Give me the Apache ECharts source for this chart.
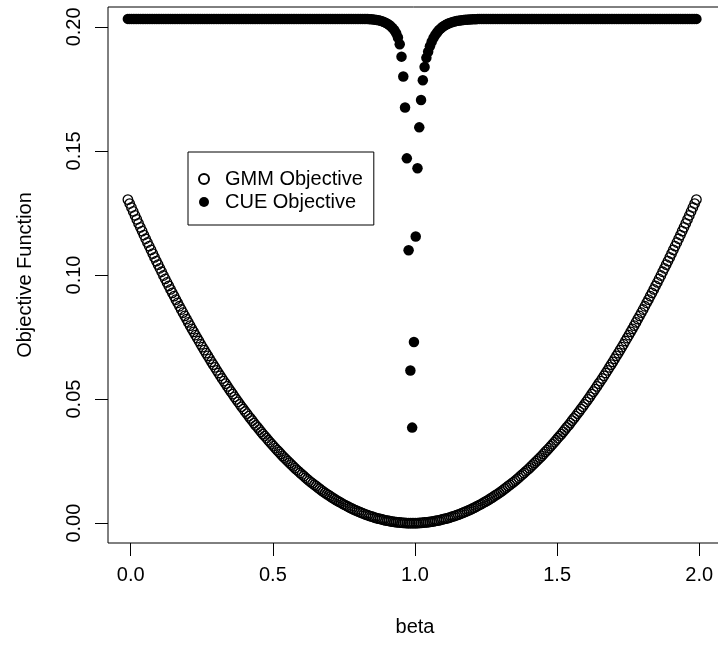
<!DOCTYPE html>
<html>
<head>
<meta charset="utf-8">
<script src="https://cdn.jsdelivr.net/npm/echarts@6/dist/echarts.min.js"></script>
<style>
html, body {margin: 0; padding: 0; background: #fff;}
#chartContainer {width: 718px; height: 649px;}
</style>
</head>
<body>
<div id="chartContainer"></div>
<script>
// beta grid (x values of both series)
var betaGrid = [
    -0.01, -0.00375, 0.0025, 0.00875, 0.015, 0.02125, 0.0275, 0.03375,
    0.04, 0.04625, 0.0525, 0.05875, 0.065, 0.07125, 0.0775, 0.08375,
    0.09, 0.09625, 0.1025, 0.10875, 0.115, 0.12125, 0.1275, 0.13375,
    0.14, 0.14625, 0.1525, 0.15875, 0.165, 0.17125, 0.1775, 0.18375,
    0.19, 0.19625, 0.2025, 0.20875, 0.215, 0.22125, 0.2275, 0.23375,
    0.24, 0.24625, 0.2525, 0.25875, 0.265, 0.27125, 0.2775, 0.28375,
    0.29, 0.29625, 0.3025, 0.30875, 0.315, 0.32125, 0.3275, 0.33375,
    0.34, 0.34625, 0.3525, 0.35875, 0.365, 0.37125, 0.3775, 0.38375,
    0.39, 0.39625, 0.4025, 0.40875, 0.415, 0.42125, 0.4275, 0.43375,
    0.44, 0.44625, 0.4525, 0.45875, 0.465, 0.47125, 0.4775, 0.48375,
    0.49, 0.49625, 0.5025, 0.50875, 0.515, 0.52125, 0.5275, 0.53375,
    0.54, 0.54625, 0.5525, 0.55875, 0.565, 0.57125, 0.5775, 0.58375,
    0.59, 0.59625, 0.6025, 0.60875, 0.615, 0.62125, 0.6275, 0.63375,
    0.64, 0.64625, 0.6525, 0.65875, 0.665, 0.67125, 0.6775, 0.68375,
    0.69, 0.69625, 0.7025, 0.70875, 0.715, 0.72125, 0.7275, 0.73375,
    0.74, 0.74625, 0.7525, 0.75875, 0.765, 0.77125, 0.7775, 0.78375,
    0.79, 0.79625, 0.8025, 0.80875, 0.815, 0.82125, 0.8275, 0.83375,
    0.84, 0.84625, 0.8525, 0.85875, 0.865, 0.87125, 0.8775, 0.88375,
    0.89, 0.89625, 0.9025, 0.90875, 0.915, 0.92125, 0.9275, 0.93375,
    0.94, 0.94625, 0.9525, 0.95875, 0.965, 0.97125, 0.9775, 0.98375,
    0.99, 0.99625, 1.0025, 1.00875, 1.015, 1.02125, 1.0275, 1.03375,
    1.04, 1.04625, 1.0525, 1.05875, 1.065, 1.07125, 1.0775, 1.08375,
    1.09, 1.09625, 1.1025, 1.10875, 1.115, 1.12125, 1.1275, 1.13375,
    1.14, 1.14625, 1.1525, 1.15875, 1.165, 1.17125, 1.1775, 1.18375,
    1.19, 1.19625, 1.2025, 1.20875, 1.215, 1.22125, 1.2275, 1.23375,
    1.24, 1.24625, 1.2525, 1.25875, 1.265, 1.27125, 1.2775, 1.28375,
    1.29, 1.29625, 1.3025, 1.30875, 1.315, 1.32125, 1.3275, 1.33375,
    1.34, 1.34625, 1.3525, 1.35875, 1.365, 1.37125, 1.3775, 1.38375,
    1.39, 1.39625, 1.4025, 1.40875, 1.415, 1.42125, 1.4275, 1.43375,
    1.44, 1.44625, 1.4525, 1.45875, 1.465, 1.47125, 1.4775, 1.48375,
    1.49, 1.49625, 1.5025, 1.50875, 1.515, 1.52125, 1.5275, 1.53375,
    1.54, 1.54625, 1.5525, 1.55875, 1.565, 1.57125, 1.5775, 1.58375,
    1.59, 1.59625, 1.6025, 1.60875, 1.615, 1.62125, 1.6275, 1.63375,
    1.64, 1.64625, 1.6525, 1.65875, 1.665, 1.67125, 1.6775, 1.68375,
    1.69, 1.69625, 1.7025, 1.70875, 1.715, 1.72125, 1.7275, 1.73375,
    1.74, 1.74625, 1.7525, 1.75875, 1.765, 1.77125, 1.7775, 1.78375,
    1.79, 1.79625, 1.8025, 1.80875, 1.815, 1.82125, 1.8275, 1.83375,
    1.84, 1.84625, 1.8525, 1.85875, 1.865, 1.87125, 1.8775, 1.88375,
    1.89, 1.89625, 1.9025, 1.90875, 1.915, 1.92125, 1.9275, 1.93375,
    1.94, 1.94625, 1.9525, 1.95875, 1.965, 1.97125, 1.9775, 1.98375,
    1.99
];

// GMM objective
var gmmObjective = [
    0.1304, 0.1288, 0.1272, 0.1256, 0.1240, 0.1224, 0.1208, 0.1192, 0.1177, 0.1161,
    0.1146, 0.1131, 0.1116, 0.1101, 0.1086, 0.1071, 0.1056, 0.1042, 0.1027, 0.1013,
    0.0998, 0.0984, 0.0970, 0.0956, 0.0942, 0.0928, 0.0915, 0.0901, 0.0888, 0.0874,
    0.0861, 0.0848, 0.0835, 0.0822, 0.0809, 0.0796, 0.0783, 0.0771, 0.0758, 0.0746,
    0.0734, 0.0721, 0.0709, 0.0697, 0.0685, 0.0674, 0.0662, 0.0650, 0.0639, 0.0628,
    0.0616, 0.0605, 0.0594, 0.0583, 0.0572, 0.0562, 0.0551, 0.0540, 0.0530, 0.0520,
    0.0509, 0.0499, 0.0489, 0.0479, 0.0469, 0.0460, 0.0450, 0.0441, 0.0431, 0.0422,
    0.0413, 0.0403, 0.0394, 0.0386, 0.0377, 0.0368, 0.0359, 0.0351, 0.0343, 0.0334,
    0.0326, 0.0318, 0.0310, 0.0302, 0.0294, 0.0287, 0.0279, 0.0271, 0.0264, 0.0257,
    0.0250, 0.0243, 0.0236, 0.0229, 0.0222, 0.0215, 0.0209, 0.0202, 0.0196, 0.0190,
    0.0183, 0.0177, 0.0171, 0.0165, 0.0160, 0.0154, 0.0149, 0.0143, 0.0138, 0.0132,
    0.0127, 0.0122, 0.0117, 0.0113, 0.0108, 0.0103, 0.0099, 0.0094, 0.0090, 0.0086,
    0.0082, 0.0077, 0.0074, 0.0070, 0.0066, 0.0062, 0.0059, 0.0055, 0.0052, 0.0049,
    0.0046, 0.0043, 0.0040, 0.0037, 0.0034, 0.0032, 0.0029, 0.0027, 0.0025, 0.0022,
    0.0020, 0.0018, 0.0017, 0.0015, 0.0013, 0.0011, 0.0010, 0.0009, 0.0007, 0.0006,
    0.0005, 0.0004, 0.0003, 0.0003, 0.0002, 0.0001, 0.0001, 0, 0, 0,
    0,
    0, 0, 0, 0.0001, 0.0001, 0.0002, 0.0003, 0.0003, 0.0004, 0.0005,
    0.0006, 0.0007, 0.0009, 0.0010, 0.0011, 0.0013, 0.0015, 0.0017, 0.0018, 0.0020,
    0.0022, 0.0025, 0.0027, 0.0029, 0.0032, 0.0034, 0.0037, 0.0040, 0.0043, 0.0046,
    0.0049, 0.0052, 0.0055, 0.0059, 0.0062, 0.0066, 0.0070, 0.0074, 0.0077, 0.0082,
    0.0086, 0.0090, 0.0094, 0.0099, 0.0103, 0.0108, 0.0113, 0.0117, 0.0122, 0.0127,
    0.0132, 0.0138, 0.0143, 0.0149, 0.0154, 0.0160, 0.0165, 0.0171, 0.0177, 0.0183,
    0.0190, 0.0196, 0.0202, 0.0209, 0.0215, 0.0222, 0.0229, 0.0236, 0.0243, 0.0250,
    0.0257, 0.0264, 0.0271, 0.0279, 0.0287, 0.0294, 0.0302, 0.0310, 0.0318, 0.0326,
    0.0334, 0.0343, 0.0351, 0.0359, 0.0368, 0.0377, 0.0386, 0.0394, 0.0403, 0.0413,
    0.0422, 0.0431, 0.0441, 0.0450, 0.0460, 0.0469, 0.0479, 0.0489, 0.0499, 0.0509,
    0.0520, 0.0530, 0.0540, 0.0551, 0.0562, 0.0572, 0.0583, 0.0594, 0.0605, 0.0616,
    0.0628, 0.0639, 0.0650, 0.0662, 0.0674, 0.0685, 0.0697, 0.0709, 0.0721, 0.0734,
    0.0746, 0.0758, 0.0771, 0.0783, 0.0796, 0.0809, 0.0822, 0.0835, 0.0848, 0.0861,
    0.0874, 0.0888, 0.0901, 0.0915, 0.0928, 0.0942, 0.0956, 0.0970, 0.0984, 0.0998,
    0.1013, 0.1027, 0.1042, 0.1056, 0.1071, 0.1086, 0.1101, 0.1116, 0.1131, 0.1146,
    0.1161, 0.1177, 0.1192, 0.1208, 0.1224, 0.1240, 0.1256, 0.1272, 0.1288, 0.1304
];

// CUE objective
var cueObjective = [
    0.2032, 0.2032, 0.2032, 0.2032, 0.2032, 0.2032, 0.2032, 0.2032, 0.2032, 0.2032,
    0.2032, 0.2032, 0.2032, 0.2032, 0.2032, 0.2032, 0.2032, 0.2032, 0.2032, 0.2032,
    0.2032, 0.2032, 0.2032, 0.2032, 0.2032, 0.2032, 0.2032, 0.2032, 0.2032, 0.2032,
    0.2032, 0.2032, 0.2032, 0.2032, 0.2032, 0.2032, 0.2032, 0.2032, 0.2032, 0.2032,
    0.2032, 0.2032, 0.2032, 0.2032, 0.2032, 0.2032, 0.2032, 0.2032, 0.2032, 0.2032,
    0.2032, 0.2032, 0.2032, 0.2032, 0.2032, 0.2032, 0.2032, 0.2032, 0.2032, 0.2032,
    0.2032, 0.2032, 0.2032, 0.2032, 0.2032, 0.2032, 0.2032, 0.2032, 0.2032, 0.2032,
    0.2032, 0.2032, 0.2032, 0.2032, 0.2032, 0.2032, 0.2032, 0.2032, 0.2032, 0.2032,
    0.2032, 0.2032, 0.2032, 0.2032, 0.2032, 0.2032, 0.2032, 0.2032, 0.2032, 0.2032,
    0.2032, 0.2032, 0.2032, 0.2032, 0.2032, 0.2032, 0.2032, 0.2032, 0.2032, 0.2032,
    0.2032, 0.2032, 0.2032, 0.2032, 0.2032, 0.2032, 0.2032, 0.2032, 0.2032, 0.2032,
    0.2032, 0.2032, 0.2032, 0.2032, 0.2032, 0.2032, 0.2032, 0.2032, 0.2032, 0.2032,
    0.2032, 0.2032, 0.2032, 0.2032, 0.2032, 0.2032, 0.2032, 0.2032, 0.2032, 0.2032,
    0.2032, 0.2032, 0.2032, 0.2032, 0.2032, 0.2032,
    0.2031, 0.2031, 0.2030, 0.2029, 0.2028, 0.2027, 0.2025, 0.2023, 0.2020, 0.2017,
    0.2013, 0.2008, 0.2002, 0.1995, 0.1986, 0.1974, 0.1957, 0.1930, 0.1880, 0.1800,
    0.1675, 0.1470, 0.1100, 0.0615, 0.0385, 0.0730, 0.1155, 0.1430, 0.1595, 0.1705,
    0.1785, 0.1838, 0.1875, 0.1900, 0.1922, 0.1940, 0.1955, 0.1967, 0.1977, 0.1986,
    0.1993, 0.1999, 0.2004, 0.2008, 0.2012, 0.2015, 0.2018, 0.2020, 0.2022, 0.2024,
    0.2025, 0.2026, 0.2027, 0.2028, 0.2029, 0.2029, 0.2030, 0.2030, 0.2031, 0.2031, 0.2031,
    0.2032, 0.2032, 0.2032, 0.2032, 0.2032, 0.2032, 0.2032, 0.2032, 0.2032, 0.2032,
    0.2032, 0.2032, 0.2032, 0.2032, 0.2032, 0.2032, 0.2032, 0.2032, 0.2032, 0.2032,
    0.2032, 0.2032, 0.2032, 0.2032, 0.2032, 0.2032, 0.2032, 0.2032, 0.2032, 0.2032,
    0.2032, 0.2032, 0.2032, 0.2032, 0.2032, 0.2032, 0.2032, 0.2032, 0.2032, 0.2032,
    0.2032, 0.2032, 0.2032, 0.2032, 0.2032, 0.2032, 0.2032, 0.2032, 0.2032, 0.2032,
    0.2032, 0.2032, 0.2032, 0.2032, 0.2032, 0.2032, 0.2032, 0.2032, 0.2032, 0.2032,
    0.2032, 0.2032, 0.2032, 0.2032, 0.2032, 0.2032, 0.2032, 0.2032, 0.2032, 0.2032,
    0.2032, 0.2032, 0.2032, 0.2032, 0.2032, 0.2032, 0.2032, 0.2032, 0.2032, 0.2032,
    0.2032, 0.2032, 0.2032, 0.2032, 0.2032, 0.2032, 0.2032, 0.2032, 0.2032, 0.2032,
    0.2032, 0.2032, 0.2032, 0.2032, 0.2032, 0.2032, 0.2032, 0.2032, 0.2032, 0.2032,
    0.2032, 0.2032, 0.2032, 0.2032, 0.2032, 0.2032, 0.2032, 0.2032, 0.2032, 0.2032,
    0.2032, 0.2032, 0.2032, 0.2032, 0.2032, 0.2032, 0.2032, 0.2032, 0.2032, 0.2032,
    0.2032, 0.2032, 0.2032, 0.2032
];

var xTicks = [0, 0.5, 1, 1.5, 2];
var yTicks = [0, 0.05, 0.1, 0.15, 0.2];
var seriesNames = ['GMM Objective', 'CUE Objective'];

function pairUp(xs, ys) {
    var out = [];
    for (var i = 0; i < xs.length; i++) {
        out.push([xs[i], ys[i]]);
    }
    return out;
}

var font = '"Liberation Sans", Arial, Helvetica, sans-serif';
var myChart = echarts.init(document.getElementById('chartContainer'));

myChart.setOption({
    animation: false,
    backgroundColor: '#fff',
    textStyle: {fontFamily: font, color: '#000'},
    grid: {
        left: 108, top: 7, width: 614, height: 536,
        containLabel: false,
        outerBoundsMode: 'none',
        show: true, borderColor: '#000', borderWidth: 1
    },
    legend: {
        orient: 'vertical',
        left: 188,
        top: 152,
        padding: [17, 11, 13, 10],
        itemGap: 3,
        itemWidth: 32,
        itemHeight: 10,
        borderColor: '#000',
        borderWidth: 1,
        borderRadius: 0,
        textStyle: {fontSize: 20, color: '#000', fontFamily: font},
        data: seriesNames
    },
    xAxis: {
        type: 'value',
        min: -0.08,
        max: 2.08,
        name: 'beta',
        nameLocation: 'middle',
        nameGap: 74,
        nameTextStyle: {fontSize: 20, color: '#000', fontFamily: font},
        axisLine: {show: false, onZero: false},
        splitLine: {show: false},
        axisTick: {
            show: true, inside: false, length: 13, customValues: xTicks,
            lineStyle: {color: '#000', width: 1}
        },
        axisLabel: {
            customValues: xTicks,
            formatter: function(v) { return v.toFixed(1); },
            fontSize: 20, color: '#000', margin: 22, fontFamily: font
        }
    },
    yAxis: {
        type: 'value',
        min: -0.008,
        max: 0.208,
        name: 'Objective Function',
        nameLocation: 'middle',
        nameGap: 73,
        nameTextStyle: {fontSize: 20, color: '#000', fontFamily: font},
        axisLine: {show: false, onZero: false},
        splitLine: {show: false},
        axisTick: {
            show: true, inside: false, length: 13, customValues: yTicks,
            lineStyle: {color: '#000', width: 1}
        },
        axisLabel: {
            customValues: yTicks,
            rotate: 90,
            formatter: function(v) { return v.toFixed(2); },
            fontSize: 20, color: '#000', margin: 24, fontFamily: font
        }
    },
    series: [
        {
            name: seriesNames[0],
            type: 'scatter',
            symbol: 'circle',
            symbolSize: 9.5,
            data: pairUp(betaGrid, gmmObjective),
            itemStyle: {
                color: 'rgba(0,0,0,0)', borderColor: '#000',
                borderWidth: 1.3, opacity: 1
            },
            emphasis: {disabled: true}
        },
        {
            name: seriesNames[1],
            type: 'scatter',
            symbol: 'circle',
            symbolSize: 10.5,
            data: pairUp(betaGrid, cueObjective),
            itemStyle: {color: '#000', opacity: 1},
            emphasis: {disabled: true}
        }
    ]
});
window.onresize = myChart.resize;
</script>
</body>
</html>
